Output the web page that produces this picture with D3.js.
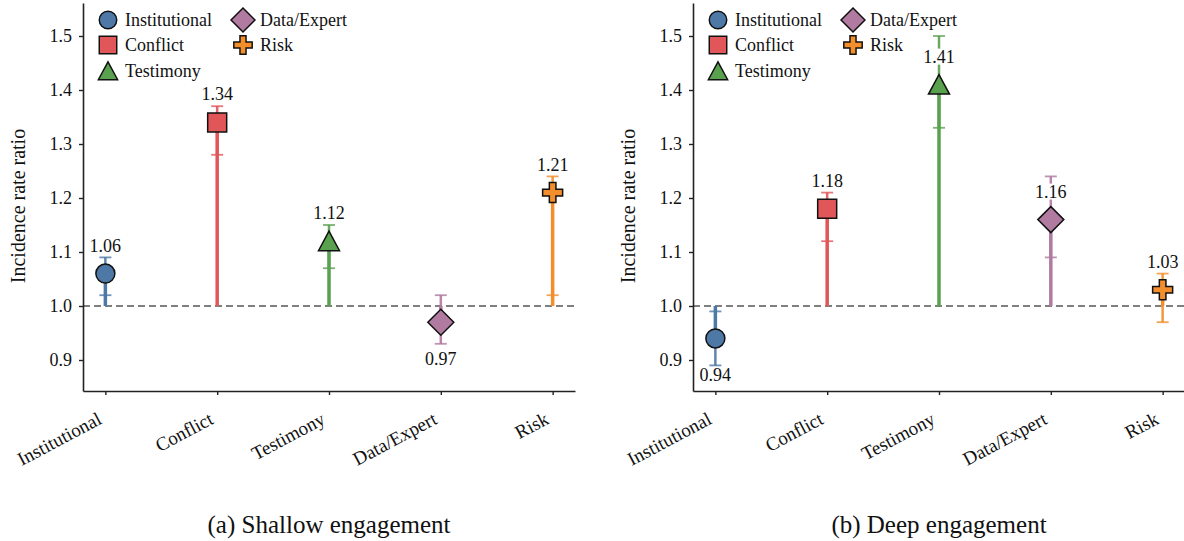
<!DOCTYPE html>
<html>
<head>
<meta charset="utf-8">
<script src="https://cdn.jsdelivr.net/npm/d3@7"></script>
</head>
<body style="margin:0; background:white">
<div id="canvas"></div>
<script>
"use strict"

// DATA
let categories = ["Institutional", "Conflict", "Testimony", "Data/Expert", "Risk"];

let shallowIrr  = [1.06, 1.34, 1.12, 0.97, 1.21];
let shallowLow  = [1.02, 1.28, 1.07, 0.93, 1.02];
let shallowHigh = [1.09, 1.37, 1.15, 1.02, 1.24];

let deepIrr  = [0.94, 1.18, 1.41, 1.16, 1.03];
let deepLow  = [0.89, 1.12, 1.33, 1.09, 0.97];
let deepHigh = [0.99, 1.21, 1.50, 1.24, 1.06];

let yTicks = [0.9, 1.0, 1.1, 1.2, 1.3, 1.4, 1.5];
let captions = ["(a) Shallow engagement", "(b) Deep engagement"];

let colors = ["#4e79a7", "#e15759", "#59a14f", "#b07aa1", "#f28e2b"];
let shapes = ["circle", "square", "triangle", "diamond", "plus"];

let serif = "'Liberation Serif'";

/* Configuration variables: drawing */
let svgWidth = 1184;
let svgHeight = 541;

let axisLeft = 83;     // left spine x in each panel
let axisRight = 575;
let axisTop = 3;
let axisBottom = 391;
let panelShift = 610;  // second panel offset

let svg = d3.select("#canvas")
  .append("svg")
  .attr("width", svgWidth)
  .attr("height", svgHeight);

let xScale = d3.scaleLinear()
  .domain([-0.2, 4.2])
  .range([axisLeft, axisRight]);

let yScale = d3.scaleLinear()
  .domain([1 - (axisBottom - 306) / 540, 1 + (306 - axisTop) / 540])
  .range([axisBottom, axisTop]);

// marker path generator, centred on 0,0
function markerPath(shape) {
  if (shape == "circle") {
    return d3.symbol().type(d3.symbolCircle).size(Math.PI * 9.5 * 9.5)();
  }
  if (shape == "square") {
    return "M-9.5,-9.5H9.5V9.5H-9.5Z";
  }
  if (shape == "triangle") {
    return "M0,-10L10.5,9.5L-10.5,9.5Z";
  }
  if (shape == "diamond") {
    return "M0,-13L13,0L0,13L-13,0Z";
  }
  // filled plus
  let a = 10, b = 3.3;
  return "M" + (-b) + "," + (-a) + "H" + b + "V" + (-b) + "H" + a + "V" + b + "H" + b +
    "V" + a + "H" + (-b) + "V" + b + "H" + (-a) + "V" + (-b) + "H" + (-b) + "Z";
}

function addText(g, size) {
  return g.append("text")
    .style("font-family", serif)
    .style("font-size", size + "px")
    .attr("fill", "#111");
}

function drawPanel(shift, irr, low, high, caption) {
  let g = svg.append("g").attr("transform", "translate(" + shift + ",0)");

  // reference line at 1.0
  g.append("line")
    .attr("x1", axisLeft)
    .attr("x2", axisRight)
    .attr("y1", yScale(1))
    .attr("y2", yScale(1))
    .attr("stroke", "#7f7f7f")
    .attr("stroke-width", 1.8)
    .attr("stroke-dasharray", "7,4");

  for (let i = 0; i < categories.length; i++) {
    let x = xScale(i);

    // stem from 1.0 to the estimate
    g.append("line")
      .attr("x1", x).attr("x2", x)
      .attr("y1", yScale(1))
      .attr("y2", yScale(irr[i]))
      .attr("stroke", colors[i])
      .attr("stroke-width", 3.5);

    // confidence interval
    g.append("line")
      .attr("x1", x).attr("x2", x)
      .attr("y1", yScale(low[i]))
      .attr("y2", yScale(high[i]))
      .attr("stroke", colors[i])
      .attr("stroke-width", 2.5)
      .attr("opacity", 0.9);

    [low[i], high[i]].forEach(function (v) {
      g.append("line")
        .attr("x1", x - 6).attr("x2", x + 6)
        .attr("y1", yScale(v)).attr("y2", yScale(v))
        .attr("stroke", colors[i])
        .attr("stroke-width", 1.8)
        .attr("opacity", 0.8);
    });

    // marker
    g.append("path")
      .attr("d", markerPath(shapes[i]))
      .attr("transform", "translate(" + x + "," + yScale(irr[i]) + ")")
      .attr("fill", colors[i])
      .attr("stroke", "#111")
      .attr("stroke-width", 1.5);

    // value label with white box
    let labelY = irr[i] >= 1 ? yScale(irr[i]) - 28 : yScale(irr[i]) + 37;
    let label = addText(g, 18)
      .attr("x", x)
      .attr("y", labelY)
      .attr("text-anchor", "middle")
      .attr("dominant-baseline", "central")
      .text(irr[i].toFixed(2));
    let bb = label.node().getBBox();
    g.insert("rect", function () { return label.node(); })
      .attr("x", bb.x - 1)
      .attr("y", bb.y + 2)
      .attr("width", bb.width + 2)
      .attr("height", bb.height - 4)
      .attr("fill", "white");
  }

  // y axis
  let yAxis = g.append("g")
    .attr("transform", "translate(" + axisLeft + ",0)")
    .call(d3.axisLeft(yScale).tickValues(yTicks).tickFormat(d3.format(".1f")).tickSize(4).tickSizeOuter(0).tickPadding(7));

  // x axis
  let xAxis = g.append("g")
    .attr("transform", "translate(0," + axisBottom + ")")
    .call(d3.axisBottom(xScale).tickValues([0, 1, 2, 3, 4])
      .tickFormat(function (d) { return categories[d]; })
      .tickSize(4).tickSizeOuter(0));

  xAxis.selectAll(".tick text")
    .attr("x", 0)
    .attr("y", 0)
    .attr("dy", 0)
    .attr("text-anchor", "end")
    .attr("transform", "translate(-3,32) rotate(-28)");

  [yAxis, xAxis].forEach(function (ax) {
    ax.attr("font-family", serif).attr("font-size", 18);
    ax.select(".domain").attr("stroke", "#222").attr("stroke-width", 1.6);
    ax.selectAll(".tick line").attr("stroke", "#222").attr("stroke-width", 1.4);
    ax.selectAll(".tick text")
      .style("font-family", serif)
      .style("font-size", "18px")
      .attr("fill", "#111");
  });
  xAxis.selectAll(".tick text").style("font-size", "19px");

  // y axis title
  addText(g, 20)
    .attr("transform", "translate(18,206) rotate(-90)")
    .attr("text-anchor", "middle")
    .attr("dominant-baseline", "central")
    .text("Incidence rate ratio");

  // legend: two columns
  for (let i = 0; i < categories.length; i++) {
    let lx = i < 3 ? 108 : 243;
    let ly = [20, 45, 71, 20, 45][i];
    g.append("path")
      .attr("d", markerPath(shapes[i]))
      .attr("transform", "translate(" + lx + "," + ly + ") scale(0.92)")
      .attr("fill", colors[i])
      .attr("stroke", "#111")
      .attr("stroke-width", 1.6);
    addText(g, 18)
      .attr("x", lx + 17)
      .attr("y", ly)
      .attr("dominant-baseline", "central")
      .text(categories[i]);
  }

  // caption
  addText(g, 25)
    .attr("x", (axisLeft + axisRight) / 2)
    .attr("y", 533)
    .attr("text-anchor", "middle")
    .text(caption);
}

drawPanel(0, shallowIrr, shallowLow, shallowHigh, captions[0]);
drawPanel(panelShift, deepIrr, deepLow, deepHigh, captions[1]);
</script>
</body>
</html>
